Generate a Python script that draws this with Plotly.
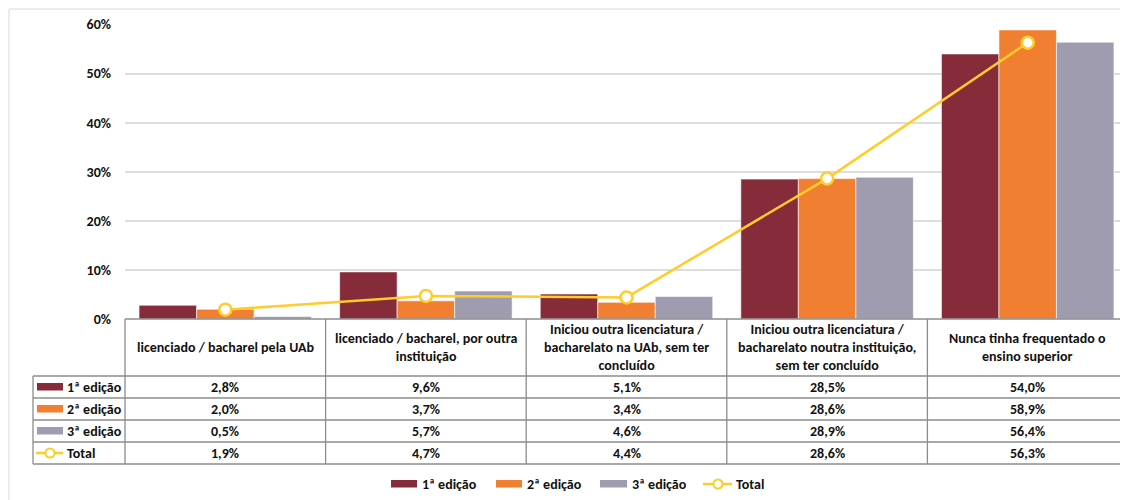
import plotly.graph_objects as go

categories = [
    "licenciado / bacharel pela UAb",
    "licenciado / bacharel, por outra<br>instituição",
    "Iniciou outra licenciatura /<br>bacharelato na UAb, sem ter<br>concluído",
    "Iniciou outra licenciatura /<br>bacharelato noutra instituição,<br>sem ter concluído",
    "Nunca tinha frequentado o<br>ensino superior",
]
ed1 = [2.8, 9.6, 5.1, 28.5, 54.0]
ed2 = [2.0, 3.7, 3.4, 28.6, 58.9]
ed3 = [0.5, 5.7, 4.6, 28.9, 56.4]
total = [1.9, 4.7, 4.4, 28.6, 56.3]
series_names = ["1ª edição", "2ª edição", "3ª edição", "Total"]
y_ticks = [0, 10, 20, 30, 40, 50, 60]

C1, C2, C3, CT = "#862B3A", "#F07F31", "#A09CB0", "#FFCC29"
FONT = "Carlito, Lato"
FS = 14
TXT = "#111111"
OFF = 8  # page body margin
W, H = 1128 - OFF, 500 - OFF


def X(px):
    return (px - OFF) / W


def Y(py):
    return 1 - (py - OFF) / H


fig = go.Figure()
for name, vals, col in [(series_names[0], ed1, C1), (series_names[1], ed2, C2), (series_names[2], ed3, C3)]:
    fig.add_trace(go.Bar(x=categories, y=[v / 100 for v in vals], name=name,
                         marker=dict(color=col, line=dict(color="rgba(255,255,255,0.6)", width=1))))
fig.add_trace(go.Scatter(x=categories, y=[v / 100 for v in total], name=series_names[3], mode="lines+markers",
                         line=dict(color=CT, width=2.5),
                         marker=dict(size=12, color="white", line=dict(color=CT, width=2.5))))

x0, x1 = 125, 1128
y_top_plot, y_axis = 24.5, 319
fig.update_layout(
    template="none",
    width=W, height=H, margin=dict(l=0, r=0, t=0, b=0, pad=0, autoexpand=False),
    paper_bgcolor="white", plot_bgcolor="white",
    barmode="group", bargap=0.14, bargroupgap=0,
    showlegend=False,
    font=dict(family=FONT, size=FS, color=TXT),
    xaxis=dict(domain=[X(x0), X(x1)], showticklabels=False, showgrid=False, zeroline=False,
               showline=False, fixedrange=True, automargin=False),
    yaxis=dict(domain=[Y(y_axis), Y(y_top_plot)], range=[0, 0.6], tickvals=[t / 100 for t in y_ticks],
               ticktext=[f"<b>{t}%</b>" for t in y_ticks], showgrid=True, gridcolor="#DDDDDD", gridwidth=1.5,
               zeroline=False, showline=False, ticks="", ticklabelstandoff=13, automargin=False,
               tickfont=dict(size=FS, family=FONT, color=TXT)),
)

shapes = []
ann = []
line_col = "#8C8C8C"
# outer frame
shapes.append(dict(type="rect", xref="paper", yref="paper", x0=X(9), x1=X(1140), y0=Y(510), y1=Y(9),
                   line=dict(color="#D9D9D9", width=1), layer="below"))

# table geometry
col_edges = [x0 + i * (x1 - x0) / 5 for i in range(6)]
row_edges = [319, 376, 398, 420, 442, 464]
lx0 = 33
shapes.append(dict(type="line", xref="paper", yref="paper", x0=X(x0), x1=X(x1), y0=Y(319), y1=Y(319),
                   line=dict(color=line_col, width=1.3)))
for r in row_edges[1:]:
    shapes.append(dict(type="line", xref="paper", yref="paper", x0=X(lx0), x1=X(x1), y0=Y(r), y1=Y(r),
                       line=dict(color=line_col, width=1.3)))
for i, c in enumerate(col_edges):
    cc = min(c, 1127)
    shapes.append(dict(type="line", xref="paper", yref="paper", x0=X(cc), x1=X(cc), y0=Y(319), y1=Y(464),
                       line=dict(color=line_col, width=1.3)))
shapes.append(dict(type="line", xref="paper", yref="paper", x0=X(lx0), x1=X(lx0), y0=Y(376), y1=Y(464),
                   line=dict(color=line_col, width=1.3)))

# header texts
for i, cat in enumerate(categories):
    cx = (col_edges[i] + col_edges[i + 1]) / 2
    ann.append(dict(xref="paper", yref="paper", x=X(cx), y=Y(347.5), text=f"<b>{cat}</b>", showarrow=False,
                    xanchor="center", yanchor="middle", font=dict(size=FS, family=FONT, color=TXT)))

# data rows
rows = [ed1, ed2, ed3, total]
colors = [C1, C2, C3, CT]
for ri, vals in enumerate(rows):
    cy = (row_edges[ri + 1] + row_edges[ri + 2]) / 2
    for i, v in enumerate(vals):
        cx = (col_edges[i] + col_edges[i + 1]) / 2
        ann.append(dict(xref="paper", yref="paper", x=X(cx), y=Y(cy),
                        text="<b>" + f"{v:.1f}%".replace(".", ",") + "</b>", showarrow=False,
                        xanchor="center", yanchor="middle", font=dict(size=FS, family=FONT, color=TXT)))
    if ri < 3:
        shapes.append(dict(type="rect", xref="paper", yref="paper", x0=X(37), x1=X(63), y0=Y(cy + 3.5),
                           y1=Y(cy - 4), fillcolor=colors[ri], line=dict(width=0)))
    else:
        shapes.append(dict(type="line", xref="paper", yref="paper", x0=X(36), x1=X(63), y0=Y(cy), y1=Y(cy),
                           line=dict(color=CT, width=2.5)))
        shapes.append(dict(type="circle", xref="paper", yref="paper", x0=X(45.5), x1=X(54.5), y0=Y(cy + 4.5),
                           y1=Y(cy - 4.5), fillcolor="white", line=dict(color=CT, width=2)))
    ann.append(dict(xref="paper", yref="paper", x=X(65), y=Y(cy), text=f"<b>{series_names[ri]}</b>",
                    showarrow=False, xanchor="left", yanchor="middle",
                    font=dict(size=FS, family=FONT, color=TXT)))

# bottom legend
ly = 484
leg = [(391, 417, 420), (496, 522, 525), (600, 627, 630)]
for k, (a, b, t) in enumerate(leg):
    shapes.append(dict(type="rect", xref="paper", yref="paper", x0=X(a), x1=X(b), y0=Y(ly + 3.5), y1=Y(ly - 4),
                       fillcolor=colors[k], line=dict(width=0)))
    ann.append(dict(xref="paper", yref="paper", x=X(t), y=Y(ly), text=f"<b>{series_names[k]}</b>",
                    showarrow=False, xanchor="left", yanchor="middle",
                    font=dict(size=FS, family=FONT, color=TXT)))
shapes.append(dict(type="line", xref="paper", yref="paper", x0=X(703), x1=X(732), y0=Y(ly), y1=Y(ly),
                   line=dict(color=CT, width=2.5)))
shapes.append(dict(type="circle", xref="paper", yref="paper", x0=X(713.5), x1=X(722.5), y0=Y(ly + 4.5),
                   y1=Y(ly - 4.5), fillcolor="white", line=dict(color=CT, width=2)))
ann.append(dict(xref="paper", yref="paper", x=X(734), y=Y(ly), text=f"<b>{series_names[3]}</b>",
                showarrow=False, xanchor="left", yanchor="middle", font=dict(size=FS, family=FONT, color=TXT)))

fig.update_layout(shapes=shapes, annotations=ann)
fig.write_html("out.html")
